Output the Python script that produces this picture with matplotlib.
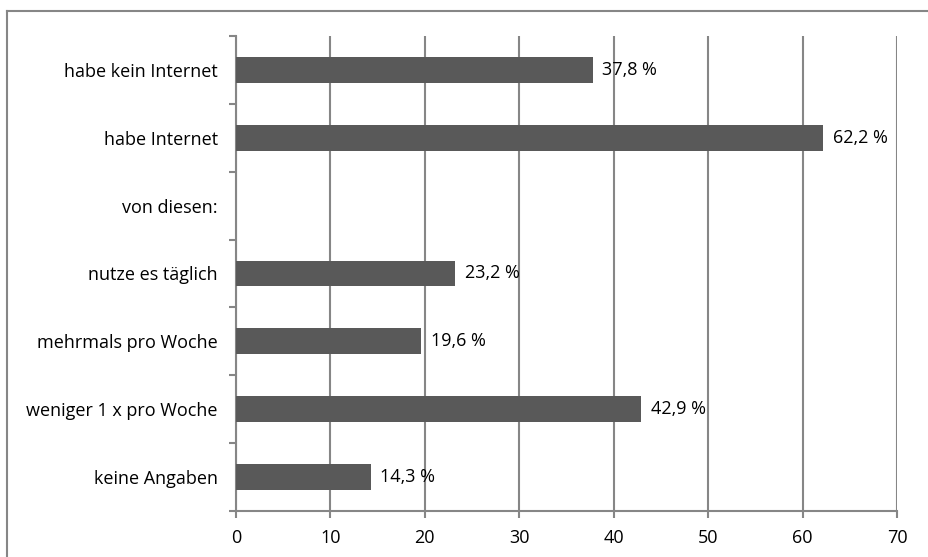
import matplotlib
matplotlib.use("Agg")
from matplotlib import pyplot as plt
from matplotlib.lines import Line2D
import numpy as np

kategorien = ["habe kein Internet", "habe Internet", "von diesen:", "nutze es täglich",
              "mehrmals pro Woche", "weniger 1 x pro Woche", "keine Angaben"]
werte = [37.8, 62.2, None, 23.2, 19.6, 42.9, 14.3]
x_ticks = [0, 10, 20, 30, 40, 50, 60, 70]

plt.rcParams['font.family'] = ['Open Sans', 'DejaVu Sans']
grau = '#868686'
fs = 13

fig = plt.figure(figsize=(9.29, 5.57), dpi=100)
ax = fig.add_axes([0.254, 0.0826, 0.7116, 0.8528])

n = len(kategorien)
pos = np.arange(n)[::-1]
for p, w in zip(pos, werte):
    if w is None:
        continue
    ax.barh(p, w, height=0.38, color='#595959', zorder=3)
    ax.text(w + 1.0, p, ('%.1f' % w).replace('.', ',') + ' %', va='center', ha='left',
            fontsize=fs, color='black', zorder=4)

ax.set_xlim(0, 70)
ax.set_ylim(-0.5, n - 0.5)
ax.set_xticks(x_ticks)
ax.set_xticklabels([str(t) for t in x_ticks], fontsize=fs)
ax.set_yticks(pos)
ax.set_yticklabels(kategorien, fontsize=fs)
ax.set_yticks(np.arange(-0.5, n, 1.0), minor=True)
ax.tick_params(axis='y', which='major', length=0, pad=13)
ax.tick_params(axis='y', which='minor', length=5, width=1.5, color=grau)
ax.tick_params(axis='x', length=5, width=1.5, color=grau, pad=8)
ax.grid(axis='x', color=grau, linewidth=1.5, zorder=0)

for s in ['top', 'right']:
    ax.spines[s].set_visible(False)
for s in ['left', 'bottom']:
    ax.spines[s].set_color(grau)
    ax.spines[s].set_linewidth(1.5)

# Rahmen um das Diagramm
fig.add_artist(Line2D([7.5 / 929, 7.5 / 929], [0, 1 - 11 / 557], color=grau, linewidth=1.5))
fig.add_artist(Line2D([7.5 / 929, 1], [1 - 11 / 557, 1 - 11 / 557], color=grau, linewidth=1.5))

fig.savefig("out.png", dpi=100)
